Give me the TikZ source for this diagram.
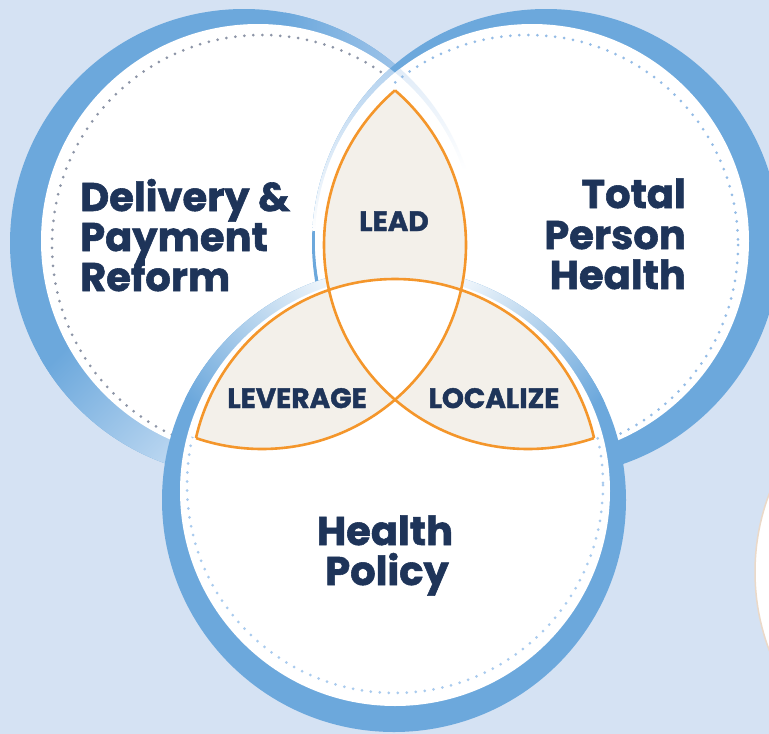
\documentclass[tikz,border=0pt]{standalone}
\usepackage{fontspec}
\newfontfamily\popfont{Poppins}[BoldFeatures={FakeBold=1.4}]
\definecolor{bgblue}{HTML}{D5E2F3}
\definecolor{ringblue}{HTML}{6CA8DC}
\definecolor{navy}{HTML}{1E3459}
\definecolor{beige}{HTML}{F3F0EA}
\definecolor{vorange}{HTML}{F4962B}
\definecolor{dotgray}{HTML}{8D95A7}
\definecolor{dotblue}{HTML}{94BCE6}
\definecolor{dotlight}{HTML}{A9CBEE}
\definecolor{fadeA}{HTML}{A2C6EA}
\definecolor{fadeB}{HTML}{B8D5F0}
\definecolor{fadeC}{HTML}{AFCFEE}
\definecolor{fadeD}{HTML}{DCE9F7}
\definecolor{faintedge}{HTML}{EBD9C8}
\tikzset{
  bigtext/.style={font=\popfont\bfseries\fontsize{40}{40}\selectfont, text=navy, inner sep=0pt},
  smalltext/.style={font=\popfont\bfseries\fontsize{28}{28}\selectfont, text=navy, inner sep=0pt},
  dots/.style={line width=3pt, dash pattern=on 0pt off 9pt, line cap=round},
  venn/.style={draw=vorange, line width=2.6pt},
}
\begin{document}
\begin{tikzpicture}[x=1pt,y=-1pt]
\useasboundingbox (0,0) rectangle (769,734);
\clip (0,0) rectangle (769,734);
\fill[bgblue] (0,0) rectangle (769,734);
% centres
\coordinate (Lo) at (262,245);
\coordinate (Ro) at (528,245);
\coordinate (Bo) at (395,483);
\coordinate (Lw) at (258,241);
\coordinate (Rw) at (532,241);
\coordinate (Bw) at (395,491);
\coordinate (Lb) at (244,243);
\coordinate (Rb) at (546,243);
\coordinate (Bb) at (394,500);
\coordinate (Bd) at (395,485);
\coordinate (Xc) at (976,572);
% partial circle at the right edge
\fill[white] (Xc) circle[radius=221];
\draw[faintedge, line width=1.5pt] (Xc) circle[radius=221];
% ---- left circle
\fill[ringblue] (Lb) circle[radius=234];
\begin{scope}
  \clip (Lb) circle[radius=234];
  \shade[left color=ringblue, right color=fadeA] (285,0) rectangle (410,110);
  \shade[top color=ringblue, bottom color=fadeB, shading angle=45] (40,330) rectangle (185,480);
\end{scope}
\fill[white] (Lw) circle[radius=217];
\draw[dots, dotgray] (Lo) circle[radius=210];
% ---- right circle
\fill[ringblue] (Rb) circle[radius=234];
\begin{scope}
  \clip (Lw) circle[radius=217];
  \clip (Rb) circle[radius=234];
  \shade[top color=fadeC, bottom color=white] (300,55) rectangle (400,230);
\end{scope}
\fill[white] (Rw) circle[radius=217];
\begin{scope}
  \clip (Rw) circle[radius=217];
  \clip (Lb) circle[radius=234];
  \shade[top color=fadeD, bottom color=white] (385,55) rectangle (480,170);
  \fill[white] (Lw) circle[radius=217];
\end{scope}
\begin{scope}[even odd rule]
  \clip (-10,-10) rectangle (800,800) (Lo) circle[radius=204];
  \draw[dots, dotblue] (Ro) circle[radius=210];
\end{scope}
% ---- bottom circle
\fill[ringblue] (Bb) circle[radius=232];
\begin{scope}
  \clip (Lw) circle[radius=217];
  \clip (Bb) circle[radius=232];
  \shade[top color=white, bottom color=ringblue, shading angle=-45] (185,265) rectangle (400,455);
\end{scope}
\begin{scope}
  \clip (Rw) circle[radius=217];
  \clip (Bb) circle[radius=232];
  \shade[top color=white, bottom color=ringblue, shading angle=45] (390,265) rectangle (605,455);
\end{scope}
\fill[white] (Bw) circle[radius=215];
\begin{scope}[even odd rule]
  \clip (-10,-10) rectangle (800,800) (Lo) circle[radius=204];
  \clip (-10,-10) rectangle (800,800) (Ro) circle[radius=204];
  \draw[dots, dotlight] (Bd) circle[radius=208];
\end{scope}
% ---- lenses
\begin{scope}
  \clip (Lo) circle[radius=204];
  \fill[beige] (Ro) circle[radius=204];
  \fill[beige] (Bo) circle[radius=204];
\end{scope}
\begin{scope}
  \clip (Ro) circle[radius=204];
  \fill[beige] (Bo) circle[radius=204];
\end{scope}
\begin{scope}
  \clip (Lo) circle[radius=204];
  \clip (Ro) circle[radius=204];
  \fill[white] (Bo) circle[radius=204];
\end{scope}
\begin{scope}
  \clip (Ro) circle[radius=204] (Bo) circle[radius=204];
  \draw[venn] (Lo) circle[radius=204];
\end{scope}
\begin{scope}
  \clip (Lo) circle[radius=204] (Bo) circle[radius=204];
  \draw[venn] (Ro) circle[radius=204];
\end{scope}
\begin{scope}
  \clip (Lo) circle[radius=204] (Ro) circle[radius=204];
  \draw[venn] (Bo) circle[radius=204];
\end{scope}
% ---- texts
\node[bigtext, anchor=base west] (d1) at (80,211) {Delivery \&};
\node[bigtext, anchor=base west] (d2) at (80,251) {Payment};
\node[bigtext, anchor=base west] (d3) at (80,291) {Reform};
\node[bigtext, anchor=base east] (t1) at (686,208) {Total};
\node[bigtext, anchor=base east] (t2) at (686,249) {Person};
\node[bigtext, anchor=base east] (t3) at (686,289) {Health};
\node[bigtext, anchor=base] (h1) at (385,545) {Health};
\node[bigtext, anchor=base] (h2) at (387,585) {Policy};
\node[smalltext, anchor=base] (lead) at (394,231) {LEAD};
\node[smalltext, anchor=base] (lev) at (297,408) {LEVERAGE};
\node[smalltext, anchor=base] (loc) at (494,408) {LOCALIZE};
\end{tikzpicture}
\end{document}
